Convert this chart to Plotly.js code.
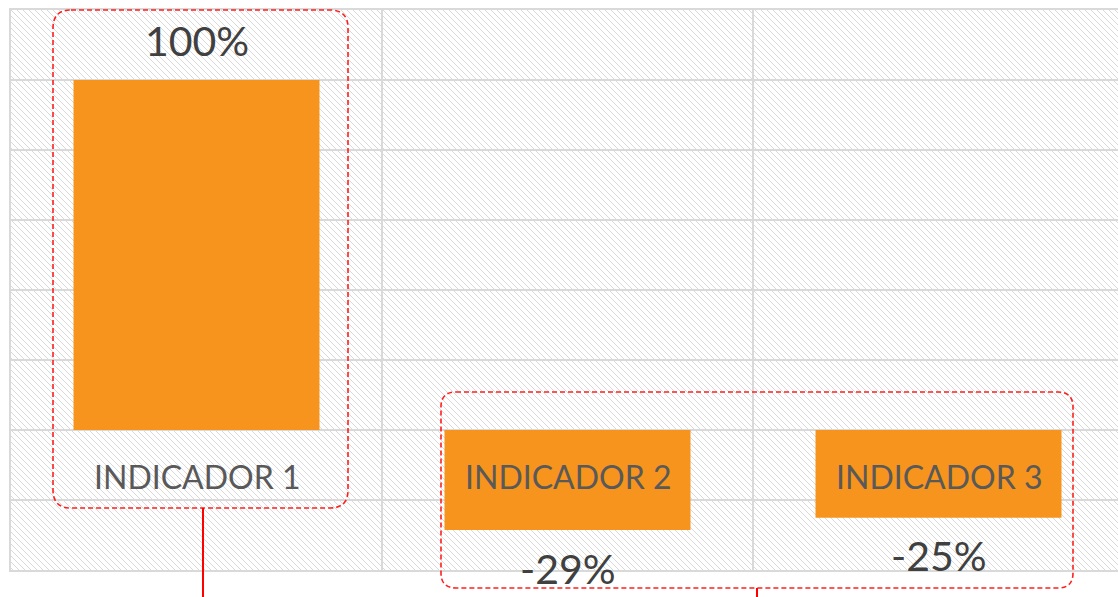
<!DOCTYPE html>
<html>
<head>
<meta charset="utf-8">
<script src="https://cdn.plot.ly/plotly-3.0.1.min.js"></script>
<style>
html,body{margin:0;padding:0;overflow:hidden;background:#fff;}
#chart{width:1125px;height:597px;}
</style>
</head>
<body>
<div id="chart"></div>
<script>
// ---- data ----
const categories = ['INDICADOR 1', 'INDICADOR 2', 'INDICADOR 3'];
const values = [100, -28.6, -25.1];
const valueLabels = ['100%', '-29%', '-25%'];
const categoryLabelLevel = -13.4;   // where the category names sit (in % units)

// ---- geometry helpers (decorations only) ----
const W = 1125, H = 597;
const M = {l: 11, r: 1, t: 10, b: 27};
const PW = W - M.l - M.r, PH = H - M.t - M.b;
function px(x){ return (x - M.l) / PW; }
function py(y){ return (H - M.b - y) / PH; }
function roundRect(x0, y0, x1, y1, r){
  const X = v => px(v).toFixed(5), Y = v => py(v).toFixed(5);
  return 'M' + X(x0 + r) + ',' + Y(y0) +
    ' L' + X(x1 - r) + ',' + Y(y0) +
    ' Q' + X(x1) + ',' + Y(y0) + ' ' + X(x1) + ',' + Y(y0 + r) +
    ' L' + X(x1) + ',' + Y(y1 - r) +
    ' Q' + X(x1) + ',' + Y(y1) + ' ' + X(x1 - r) + ',' + Y(y1) +
    ' L' + X(x0 + r) + ',' + Y(y1) +
    ' Q' + X(x0) + ',' + Y(y1) + ' ' + X(x0) + ',' + Y(y1 - r) +
    ' L' + X(x0) + ',' + Y(y0 + r) +
    ' Q' + X(x0) + ',' + Y(y0) + ' ' + X(x0 + r) + ',' + Y(y0) + ' Z';
}

// hatch background
let tile = '';
for (let i = 0; i < 6; i++) tile += '<rect x="' + i + '" y="' + i + '" width="1" height="1" fill="#d9d9d9"/>';
const svg = '<svg xmlns="http://www.w3.org/2000/svg" width="' + PW + '" height="' + PH + '" viewBox="0 0 ' + PW + ' ' + PH + '" preserveAspectRatio="none">' +
  '<defs><pattern id="p" patternUnits="userSpaceOnUse" width="6" height="6">' + tile + '</pattern></defs>' +
  '<rect width="100%" height="100%" fill="white"/><rect width="100%" height="100%" fill="url(#p)" shape-rendering="crispEdges"/></svg>';
const hatchSrc = 'data:image/svg+xml;charset=utf-8,' + encodeURIComponent(svg);

const orange = '#F7941D';
const valueFont = {family: 'Lato, "Open Sans", sans-serif', size: 41, color: '#404040'};
const catFont = {family: 'Lato, "Open Sans", sans-serif', size: 32, color: '#595959'};

const annotations = [];
categories.forEach((c, i) => {
  annotations.push({
    x: c, y: categoryLabelLevel, xref: 'x', yref: 'y', text: c, showarrow: false,
    font: catFont, xanchor: 'center', yanchor: 'middle'
  });
  annotations.push({
    x: c, y: values[i], xref: 'x', yref: 'y', text: valueLabels[i], showarrow: false,
    font: valueFont, xanchor: 'center', yanchor: 'middle', yshift: values[i] >= 0 ? 40 : -38
  });
});

const dashCol = 'rgb(255,30,30)';
const shapes = [
  {type: 'path', xref: 'paper', yref: 'paper', path: roundRect(53, 10, 348, 508, 18),
   line: {color: dashCol, width: 1.6, dash: '5px,3px'}},
  {type: 'path', xref: 'paper', yref: 'paper', path: roundRect(441, 392, 1073, 588, 15),
   line: {color: dashCol, width: 1.6, dash: '5px,3px'}},
  {type: 'line', xref: 'paper', yref: 'paper', x0: px(203), x1: px(203), y0: py(508), y1: py(600),
   line: {color: '#ff0000', width: 2}},
  {type: 'line', xref: 'paper', yref: 'paper', x0: px(757), x1: px(757), y0: py(588), y1: py(600),
   line: {color: '#ff0000', width: 2}}
];

const trace = {
  type: 'bar', x: categories, y: values, width: 0.663,
  marker: {color: orange, line: {width: 0}},
  hoverinfo: 'none', showlegend: false
};

const gridCol = '#d9d9d9';
const layout = {
  width: W, height: H,
  margin: M,
  paper_bgcolor: '#ffffff', plot_bgcolor: 'rgba(0,0,0,0)',
  showlegend: false,
  xaxis: {
    type: 'category', range: [-0.5, 2.5], tickson: 'boundaries',
    showgrid: true, gridcolor: gridCol, gridwidth: 2,
    showticklabels: false, ticks: '', showline: true, linecolor: gridCol, linewidth: 2, mirror: true,
    zeroline: false, fixedrange: true
  },
  yaxis: {
    range: [-40, 120], dtick: 20, tick0: 0,
    showgrid: true, gridcolor: gridCol, gridwidth: 2,
    zeroline: true, zerolinecolor: gridCol, zerolinewidth: 2,
    showticklabels: false, ticks: '', showline: true, linecolor: gridCol, linewidth: 2, mirror: true,
    fixedrange: true
  },
  images: [{source: hatchSrc, xref: 'paper', yref: 'paper', x: 0, y: 1, sizex: 1, sizey: 1,
            xanchor: 'left', yanchor: 'top', sizing: 'stretch', layer: 'below'}],
  annotations: annotations,
  shapes: shapes
};

Plotly.newPlot('chart', [trace], layout, {displayModeBar: false, staticPlot: true});
</script>
</body>
</html>
